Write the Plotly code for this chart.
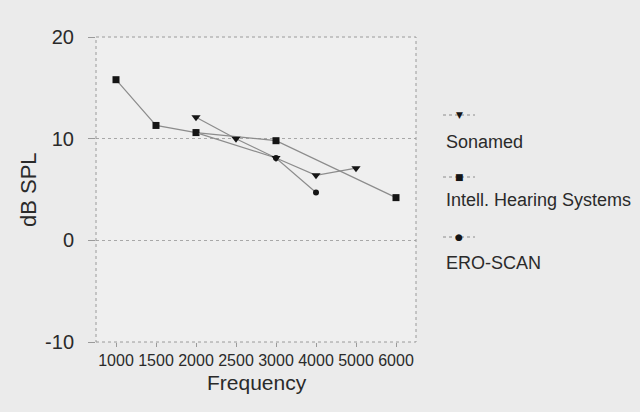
import plotly.graph_objects as go

categories = ["1000", "1500", "2000", "2500", "3000", "4000", "5000", "6000"]

sonamed_x = ["2000", "2500", "3000", "4000", "5000"]
sonamed_y = [12.1, 10.0, 8.1, 6.4, 7.1]

ihs_x = ["1000", "1500", "2000", "3000", "6000"]
ihs_y = [15.8, 11.3, 10.6, 9.8, 4.2]

ero_x = ["2000", "3000", "4000"]
ero_y = [10.6, 8.1, 4.7]

series_names = ["Sonamed", "Intell. Hearing Systems", "ERO-SCAN"]
y_ticks = [-10, 0, 10, 20]
y_tick_text = ["-10", "0", "10", "20"]

PAPER = "#ebebeb"
PLOT = "#efefef"
LINE = "#8c8c8c"
MARK = "#151515"
TXT = "#2a2a2a"
FONT = "Liberation Sans, Arial, sans-serif"

fig = go.Figure()
fig.add_trace(go.Scatter(x=ihs_x, y=ihs_y, mode="lines+markers", name=series_names[1],
                         line=dict(color=LINE, width=1.2),
                         marker=dict(symbol="square", size=7, color=MARK)))
fig.add_trace(go.Scatter(x=ero_x, y=ero_y, mode="lines+markers", name=series_names[2],
                         line=dict(color=LINE, width=1.2),
                         marker=dict(symbol="circle", size=6, color=MARK)))
fig.add_trace(go.Scatter(x=sonamed_x, y=sonamed_y, mode="lines+markers", name=series_names[0],
                         line=dict(color=LINE, width=1.2),
                         marker=dict(symbol="triangle-down", size=8, color=MARK)))

L, R, T, B = 96, 224, 37, 70
W, H = 640, 412
pw, ph = W - L - R, H - T - B

def px2x(px):
    return (px - L) / pw

def py2y(py):
    return (H - B - py) / ph

shapes = [dict(type="rect", xref="paper", yref="paper", x0=0, x1=1, y0=0, y1=1,
               line=dict(color="#9a9a9a", width=1, dash="dot"), layer="above")]
annotations = []

legend_syms = ["▼", "■", "●"]
legend_marker_py = [115, 177, 237]
legend_text_py = [142, 200, 263]
for name, sym, mpy, tpy in zip(series_names, legend_syms, legend_marker_py, legend_text_py):
    shapes.append(dict(type="line", xref="paper", yref="paper",
                       x0=px2x(443), x1=px2x(475), y0=py2y(mpy), y1=py2y(mpy),
                       line=dict(color=LINE, width=1, dash="dot")))
    annotations.append(dict(xref="paper", yref="paper", x=px2x(459), y=py2y(mpy),
                            text=sym, showarrow=False, xanchor="center", yanchor="middle",
                            font=dict(size=9, color=MARK, family="DejaVu Sans")))
    annotations.append(dict(xref="paper", yref="paper", x=px2x(444), y=py2y(tpy),
                            text=name, showarrow=False, xanchor="left", yanchor="middle",
                            font=dict(size=18, color=TXT, family=FONT)))

annotations.append(dict(xref="paper", yref="paper", x=px2x(28), y=py2y(190),
                        text="dB SPL", textangle=-90, showarrow=False,
                        xanchor="center", yanchor="middle",
                        font=dict(size=22, color=TXT, family=FONT)))
annotations.append(dict(xref="paper", yref="paper", x=px2x(257), y=py2y(382),
                        text="Frequency", showarrow=False,
                        xanchor="center", yanchor="middle",
                        font=dict(size=21, color=TXT, family=FONT)))

fig.update_layout(
    width=W, height=H,
    margin=dict(l=L, r=R, t=T, b=B),
    paper_bgcolor=PAPER, plot_bgcolor=PLOT,
    showlegend=False,
    font=dict(family=FONT, color=TXT),
    shapes=shapes, annotations=annotations,
    xaxis=dict(type="category", categoryorder="array", categoryarray=categories,
               range=[-0.5, len(categories) - 0.5], showgrid=False, zeroline=False,
               ticks="outside", ticklen=4, tickcolor="#9a9a9a",
               tickfont=dict(size=16, color=TXT), showline=False),
    yaxis=dict(range=[-10, 20], tickvals=y_ticks, ticktext=y_tick_text,
               showgrid=True, gridcolor="#a8a8a8",
               griddash="dot", gridwidth=1, zeroline=False, showline=False,
               ticks="outside", ticklen=7, tickcolor="#9a9a9a",
               ticklabelstandoff=10, tickfont=dict(size=20, color=TXT)),
)

fig.write_html(
    "out.html",
    config={"displayModeBar": False},
    post_script="document.body.style.margin='0';document.body.style.background='#ebebeb';",
)
